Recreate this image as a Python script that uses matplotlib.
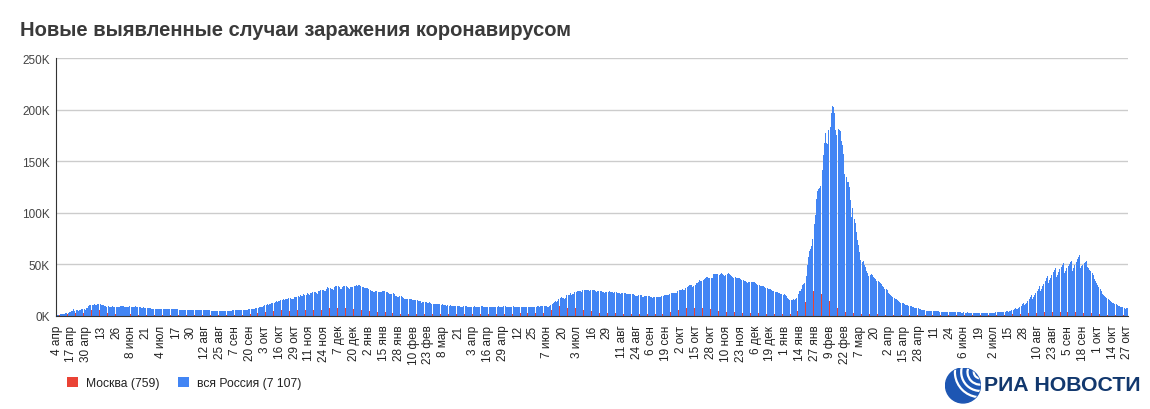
"""Новые выявленные случаи заражения коронавирусом (Россия и Москва), столбцы по дням."""

import numpy as np
import matplotlib
matplotlib.use("Agg")
import matplotlib.pyplot as plt
from matplotlib.patches import Circle, Arc
from matplotlib.ticker import FuncFormatter

# daily new cases, thousands; first day 4 Apr 2020, last day 27 Oct 2022
russia_2020 = [
    0.6, 0.7, 1.0, 1.2, 1.2, 1.5, 1.8, 1.7, 2.2, 2.6, 2.8, 3.4, 3.4, 4.1, 4.8, 6.1, 4.3, 5.6, 5.2, 4.8, 5.8, 6.0, 6.4, 6.2, 6.4, 5.8, 7.1,  # apr
    7.9, 9.6, 10.6, 10.6, 10.1, 10.6, 11.2, 10.7, 10.8, 11.0, 11.7, 10.9, 10.0, 10.0, 10.6, 9.2, 9.7, 8.9, 9.3, 8.8, 8.8, 8.9, 9.4, 8.6, 8.9, 8.9, 8.3, 8.4, 8.6, 9.0, 9.3,  # may
    9.0, 8.9, 8.5, 8.8, 8.7, 8.9, 9.0, 8.6, 8.6, 8.4, 8.8, 9.0, 8.7, 8.8, 8.2, 8.2, 7.8, 7.8, 8.0, 7.9, 7.7, 7.6, 7.4, 7.2, 7.1, 6.8, 6.9, 6.8, 6.7, 6.7,  # jun
    6.6, 6.8, 6.6, 6.7, 6.6, 6.7, 6.4, 6.6, 6.6, 6.6, 6.6, 6.6, 6.5, 6.2, 6.4, 6.4, 6.2, 6.2, 6.1, 6.0, 5.8, 5.9, 5.8, 5.8, 5.9, 5.8, 5.6, 5.5, 5.5, 5.5, 5.5,  # jul
    5.5, 5.4, 5.4, 5.4, 5.2, 5.2, 5.2, 5.2, 5.2, 5.1, 5.1, 5.1, 5.1, 5.1, 5.1, 5.1, 4.8, 4.7, 4.8, 4.9, 4.9, 4.9, 4.9, 4.7, 4.7, 4.7, 4.7, 4.7, 5.0, 4.9, 4.7,  # aug
    4.7, 4.7, 5.0, 5.0, 5.2, 5.2, 5.1, 5.1, 5.2, 5.4, 5.4, 5.4, 5.4, 5.5, 5.7, 5.7, 5.9, 5.9, 6.1, 6.1, 6.2, 6.2, 6.4, 6.6, 7.2, 7.5, 7.9, 8.1, 8.2, 8.5,  # sep
    8.9, 9.4, 10.0, 10.5, 10.9, 10.5, 11.1, 11.5, 12.1, 12.8, 12.7, 13.6, 13.9, 13.7, 13.8, 14.2, 15.2, 15.7, 16.0, 15.5, 16.0, 16.2, 16.5, 17.0, 17.3, 16.6, 16.2, 16.2, 17.7, 18.3, 18.1,  # oct
    18.7, 18.6, 19.8, 19.4, 19.4, 20.6, 20.5, 20.4, 21.8, 21.0, 19.9, 21.6, 22.0, 22.7, 22.6, 22.8, 22.4, 21.0, 23.6, 24.3, 24.8, 24.6, 25.2, 24.3, 23.7, 25.5, 27.5, 27.1, 26.7, 26.3,  # nov
    26.4, 25.3, 28.1, 28.7, 28.9, 29.0, 28.1, 26.1, 26.2, 27.9, 28.6, 29.0, 28.6, 28.1, 27.0, 26.4, 27.4, 28.2, 28.2, 28.6, 28.9, 29.4, 28.8, 29.9, 29.5, 29.0, 28.2, 27.8, 26.5, 26.5, 27.0,  # dec
]
russia_2021 = [
    26.9, 26.3, 24.7, 24.2, 23.9, 23.4, 23.3, 23.6, 23.7, 23.0, 23.3, 23.4, 22.8, 23.6, 24.1, 23.6, 22.9, 22.9, 22.3, 21.3, 21.1, 21.2, 21.7, 21.1, 19.3, 18.7, 18.2, 18.1, 19.3, 19.0, 18.4,  # jan
    17.6, 16.6, 16.7, 16.6, 16.4, 16.1, 16.7, 15.9, 14.9, 15.1, 15.2, 15.2, 15.3, 14.3, 14.2, 14.2, 12.8, 13.5, 13.4, 12.9, 13.5, 12.6, 12.7, 12.9, 12.0, 11.5, 11.6, 11.7,  # feb
    11.5, 11.2, 11.3, 11.4, 11.0, 10.7, 11.0, 10.6, 10.6, 10.6, 9.9, 10.4, 9.9, 10.0, 9.6, 9.2, 9.4, 9.4, 9.8, 9.4, 9.2, 9.1, 8.9, 8.3, 8.9, 9.1, 9.1, 9.1, 8.9, 8.5, 8.8,  # mar
    8.6, 8.6, 8.8, 9.0, 8.7, 8.3, 8.2, 8.3, 8.5, 9.0, 9.0, 8.8, 8.3, 8.2, 8.2, 8.5, 8.8, 8.7, 8.5, 8.0, 8.0, 8.1, 8.3, 8.9, 9.0, 8.1, 8.1, 8.2, 8.8, 9.1,  # apr
    9.3, 8.5, 8.7, 8.0, 8.1, 8.4, 8.9, 9.0, 8.6, 8.1, 8.0, 8.2, 8.4, 8.2, 8.8, 8.8, 8.5, 8.2, 8.2, 8.3, 8.8, 8.9, 8.9, 8.6, 8.1, 8.4, 8.6, 8.8, 9.0, 9.2, 8.7,  # may
    9.0, 9.0, 9.3, 9.5, 9.7, 9.3, 8.9, 8.9, 9.3, 10.4, 11.7, 12.5, 13.5, 14.7, 13.4, 14.1, 16.7, 17.3, 17.9, 17.6, 17.4, 16.7, 17.6, 20.2, 20.4, 20.5, 21.6, 20.5, 20.6, 21.0,  # jun
    23.5, 23.2, 24.4, 24.4, 24.4, 24.0, 23.5, 25.1, 25.1, 25.1, 25.0, 24.7, 24.5, 23.8, 25.3, 25.3, 25.1, 25.2, 24.3, 23.5, 24.0, 24.0, 24.1, 23.7, 23.3, 23.3, 22.4, 23.2, 23.5, 23.3, 23.8,  # jul
    23.0, 22.6, 22.6, 22.0, 22.6, 22.8, 22.2, 21.8, 21.6, 21.5, 21.9, 21.9, 22.0, 21.6, 20.9, 20.6, 20.8, 21.0, 21.3, 21.2, 20.8, 20.0, 19.6, 19.6, 19.5, 19.7, 20.0, 19.7, 18.6, 18.3, 18.8,  # aug
    18.9, 18.8, 18.9, 18.7, 18.1, 17.8, 17.5, 17.8, 18.1, 18.3, 17.9, 17.8, 18.0, 18.6, 18.8, 19.6, 20.0, 20.2, 19.8, 19.7, 20.3, 21.4, 22.4, 22.3, 22.0, 22.1, 22.3, 22.4, 23.9, 24.5,  # sep
    25.0, 24.8, 25.8, 25.1, 25.1, 27.2, 27.5, 28.5, 29.4, 29.4, 29.4, 28.2, 28.7, 30.0, 31.3, 32.2, 33.2, 34.3, 33.7, 34.1, 35.0, 36.0, 37.1, 37.7, 37.9, 36.4, 36.4, 36.5, 37.1, 40.1, 40.3,  # oct
    40.4, 40.1, 40.4, 40.0, 40.2, 41.3, 40.7, 39.4, 38.6, 39.2, 40.8, 41.3, 40.5, 39.2, 38.8, 37.2, 37.1, 37.4, 37.1, 37.1, 36.9, 36.3, 35.7, 34.6, 34.2, 33.9, 33.8, 33.1, 32.2, 33.0,  # nov
    32.6, 32.9, 33.0, 32.9, 32.4, 31.5, 30.7, 30.1, 29.9, 29.3, 28.8, 28.4, 28.6, 27.8, 27.1, 26.5, 26.4, 26.4, 26.1, 25.4, 24.3, 23.9, 23.2, 22.9, 22.6, 22.1, 22.0, 21.3, 20.7, 20.2, 21.1,  # dec
]
russia_2022 = [
    19.8, 18.8, 17.5, 16.0, 15.4, 15.2, 15.7, 15.9, 15.1, 15.8, 17.5, 21.0, 23.8, 23.8, 25.6, 29.6, 30.7, 31.3, 38.9, 49.5, 57.2, 63.2, 65.1, 67.8, 74.7, 88.8, 98.0, 113.1, 121.2, 123.5, 124.1,  # jan
    125.8, 141.9, 155.8, 168.2, 177.3, 168.0, 166.6, 180.5, 183.1, 197.1, 203.9, 203.0, 197.1, 180.1, 175.9, 181.0, 180.5, 179.1, 170.0, 165.4, 156.7, 137.5, 135.1, 129.9, 130.0, 125.3, 111.9, 96.2,  # feb
    105.0, 93.9, 90.1, 81.6, 73.1, 68.3, 61.9, 54.1, 52.5, 53.4, 49.4, 46.9, 43.3, 41.9, 38.7, 39.8, 40.6, 39.2, 37.8, 36.8, 35.4, 33.6, 33.4, 32.8, 31.6, 30.8, 29.2, 27.6, 26.4, 26.1, 24.8,  # mar
    22.4, 21.1, 20.1, 18.9, 18.4, 17.6, 16.7, 16.3, 15.1, 13.8, 13.6, 12.6, 12.3, 12.0, 11.1, 10.5, 10.6, 10.0, 9.8, 9.3, 9.0, 8.5, 8.2, 7.4, 7.5, 7.6, 7.3, 6.8, 6.1, 5.9,  # apr
    5.7, 5.4, 5.1, 4.6, 4.7, 4.7, 4.8, 4.6, 4.4, 4.4, 4.3, 4.5, 4.3, 4.3, 4.3, 4.0, 3.9, 3.9, 3.9, 3.7, 3.6, 3.6, 3.8, 3.5, 3.5, 3.6, 3.5, 3.3, 3.3, 3.3, 3.4,  # may
    3.3, 3.2, 3.2, 3.1, 3.1, 3.2, 3.1, 3.1, 3.2, 3.0, 2.9, 2.9, 2.9, 2.8, 2.9, 2.9, 2.8, 2.7, 2.7, 2.7, 2.7, 2.8, 2.9, 2.9, 2.9, 2.8, 2.8, 2.9, 2.9, 3.0,  # jun
    3.0, 3.0, 3.1, 3.2, 3.3, 3.5, 3.6, 3.3, 3.4, 3.6, 3.8, 4.0, 4.2, 4.4, 4.0, 4.3, 4.8, 5.3, 5.9, 6.6, 7.2, 6.3, 6.8, 7.6, 8.6, 9.7, 10.9, 12.0, 10.2, 11.2, 12.5,  # jul
    14.2, 16.0, 18.0, 20.0, 16.5, 18.0, 19.8, 21.8, 24.0, 26.3, 28.5, 24.0, 26.0, 28.5, 31.0, 34.0, 36.5, 39.0, 32.0, 34.5, 37.0, 39.5, 42.0, 44.0, 46.0, 37.5, 40.0, 42.5, 45.0, 47.5, 49.5,  # aug
    51.0, 41.0, 43.5, 46.0, 48.5, 50.5, 52.0, 53.6, 43.5, 46.5, 49.5, 52.5, 55.0, 57.0, 59.0, 46.5, 48.0, 49.5, 51.0, 52.3, 53.6, 47.0, 46.0, 44.5, 43.0, 41.5, 39.6, 35.5, 34.0, 32.0,  # sep
    30.0, 28.0, 26.0, 23.7, 21.0, 20.0, 19.0, 18.0, 17.0, 16.2, 15.3, 13.8, 13.2, 12.6, 12.0, 11.4, 10.9, 10.4, 9.3, 9.0, 8.6, 8.3, 8.0, 7.6, 6.9, 7.0, 7.107,  # oct
]

moscow_2020 = [
    0.4, 0.5, 0.7, 0.7, 0.8, 1.0, 1.1, 1.1, 1.4, 1.6, 1.5, 1.8, 1.9, 2.1, 2.6, 3.6, 2.2, 3.1, 2.5, 1.9, 3.1, 2.9, 3.1, 2.6, 2.2, 2.2, 3.6,  # apr
    4.1, 5.4, 6.0, 5.9, 5.8, 6.7, 6.0, 5.2, 5.7, 5.9, 6.2, 5.4, 4.7, 4.1, 4.5, 3.5, 3.5, 3.2, 2.7, 2.3, 2.4, 2.1, 2.3, 2.3, 2.1, 2.1, 2.1, 2.1, 2.3, 2.6, 2.4,  # may
    2.0, 1.9, 1.7, 1.8, 1.6, 1.6, 1.6, 1.6, 1.4, 1.2, 1.2, 1.5, 1.2, 1.1, 1.0, 1.0, 1.1, 1.0, 1.0, 1.0, 0.9, 0.9, 0.9, 0.8, 0.8, 0.8, 0.8, 0.8, 0.8, 0.7,  # jun
    0.7, 0.7, 0.7, 0.7, 0.7, 0.7, 0.6, 0.6, 0.6, 0.6, 0.6, 0.6, 0.6, 0.6, 0.6, 0.6, 0.6, 0.7, 0.7, 0.7, 0.6, 0.6, 0.6, 0.7, 0.7, 0.7, 0.7, 0.6, 0.6, 0.6, 0.7,  # jul
    0.7, 0.7, 0.7, 0.7, 0.7, 0.7, 0.7, 0.7, 0.7, 0.7, 0.7, 0.6, 0.6, 0.6, 0.6, 0.6, 0.6, 0.6, 0.6, 0.6, 0.7, 0.7, 0.7, 0.7, 0.7, 0.7, 0.7, 0.7, 0.7, 0.7, 0.7,  # aug
    0.7, 0.7, 0.7, 0.7, 0.7, 0.8, 0.8, 0.8, 0.8, 0.8, 0.8, 0.8, 0.8, 1.0, 1.0, 1.1, 1.1, 1.1, 1.2, 1.3, 1.5, 1.6, 1.6, 1.9, 2.3, 2.1, 2.3, 2.6, 2.9, 3.0,  # sep
    3.3, 3.3, 3.3, 3.5, 3.5, 3.5, 4.0, 4.0, 4.1, 4.3, 4.2, 4.0, 4.1, 4.1, 4.4, 5.0, 5.0, 5.3, 5.0, 4.1, 4.6, 4.8, 4.5, 4.6, 5.0, 4.7, 4.6, 4.6, 5.2, 5.3, 5.3,  # oct
    5.4, 5.3, 5.8, 5.9, 5.6, 5.6, 5.6, 5.4, 5.1, 5.4, 4.7, 5.5, 5.6, 5.9, 5.5, 5.2, 5.4, 5.6, 5.3, 5.4, 5.6, 6.0, 6.1, 6.0, 5.5, 7.2, 7.2, 6.8, 7.1, 6.9,  # nov
    7.2, 6.6, 7.8, 7.8, 8.0, 7.0, 6.0, 5.8, 5.9, 7.0, 7.6, 7.9, 7.4, 6.3, 5.7, 6.3, 6.7, 7.4, 7.4, 6.9, 6.4, 5.9, 5.3, 5.2, 6.2, 6.0, 5.6, 4.6, 4.9, 5.0, 5.6,  # dec
]
moscow_2021 = [
    5.6, 5.2, 4.7, 4.6, 4.3, 4.3, 4.2, 4.2, 4.2, 3.8, 3.6, 3.3, 3.3, 3.2, 3.7, 3.2, 3.3, 2.9, 2.5, 2.5, 2.3, 2.2, 2.4, 2.4, 2.3, 2.0, 1.9, 1.9, 2.0, 1.9, 1.9,  # jan
    1.9, 1.8, 1.6, 1.6, 1.6, 1.6, 1.5, 1.4, 1.3, 1.3, 1.4, 1.4, 1.4, 1.4, 1.3, 1.2, 1.2, 1.2, 1.2, 1.2, 1.3, 1.2, 1.2, 1.2, 1.2, 1.2, 1.2, 1.2,  # feb
    1.3, 1.2, 1.2, 1.2, 1.2, 1.2, 1.2, 1.2, 1.2, 1.2, 1.2, 1.2, 1.2, 1.3, 1.2, 1.2, 1.2, 1.2, 1.2, 1.2, 1.3, 1.3, 1.2, 1.2, 1.3, 1.3, 1.3, 1.3, 1.2, 1.3, 1.3,  # mar
    1.3, 1.4, 1.4, 1.4, 1.3, 1.3, 1.3, 1.4, 1.3, 1.4, 1.3, 1.3, 1.2, 1.3, 1.3, 1.4, 1.4, 1.3, 1.2, 1.2, 1.2, 1.2, 1.3, 1.3, 1.2, 1.2, 1.2, 1.2, 1.4, 1.5,  # apr
    1.7, 1.7, 1.8, 1.5, 1.6, 1.9, 1.9, 2.0, 2.2, 2.1, 1.9, 2.2, 2.4, 2.4, 2.4, 2.4, 2.3, 2.3, 2.4, 2.5, 2.7, 2.6, 2.8, 2.6, 2.6, 2.8, 2.9, 2.9, 3.0, 3.0, 2.7,  # may
    3.0, 3.0, 3.1, 3.0, 3.2, 3.1, 2.9, 3.0, 3.4, 4.7, 5.8, 6.7, 7.5, 7.0, 5.1, 5.8, 7.7, 9.1, 9.1, 8.6, 7.8, 6.6, 6.0, 7.9, 7.5, 7.4, 7.3, 6.5, 6.4, 6.6,  # jun
    7.5, 7.4, 7.4, 7.0, 6.1, 5.4, 5.6, 5.8, 5.2, 5.3, 5.0, 4.5, 4.2, 4.0, 4.6, 4.5, 4.0, 3.6, 3.3, 3.4, 3.3, 3.4, 3.1, 3.2, 2.9, 2.8, 2.7, 2.9, 2.7, 2.7, 2.6,  # jul
    2.5, 2.3, 2.3, 2.3, 2.3, 2.4, 2.3, 2.2, 2.0, 2.0, 2.0, 2.1, 2.0, 2.0, 1.9, 1.8, 1.8, 1.8, 1.8, 1.8, 1.8, 1.7, 1.7, 1.7, 1.7, 1.7, 1.7, 1.7, 1.6, 1.6, 1.6,  # aug
    1.6, 1.6, 1.6, 1.6, 1.5, 1.5, 1.5, 1.5, 1.6, 1.7, 1.7, 1.8, 1.8, 1.9, 2.0, 2.1, 2.2, 2.3, 2.3, 2.4, 2.5, 2.9, 3.3, 3.5, 3.9, 4.1, 4.0, 4.1, 4.9, 5.5,  # sep
    6.0, 6.4, 6.2, 6.0, 6.1, 7.2, 7.3, 7.7, 7.8, 7.5, 7.1, 6.4, 6.6, 7.0, 7.0, 7.5, 7.8, 7.3, 6.8, 6.9, 7.1, 7.5, 7.6, 8.1, 7.8, 7.4, 7.1, 6.9, 6.9, 7.4, 7.0,  # oct
    6.2, 5.8, 5.6, 4.9, 4.3, 4.2, 3.9, 3.2, 2.9, 3.0, 3.3, 3.6, 3.5, 3.4, 3.3, 3.1, 3.2, 3.2, 3.3, 3.2, 3.2, 3.1, 3.0, 3.0, 3.0, 3.0, 3.1, 3.1, 3.0, 2.8,  # nov
    2.8, 2.7, 2.6, 2.5, 2.5, 2.5, 2.6, 2.4, 2.4, 2.4, 2.3, 2.2, 2.2, 2.1, 2.1, 2.0, 2.0, 2.0, 1.9, 1.9, 1.9, 1.9, 1.8, 1.9, 1.8, 1.8, 1.7, 1.7, 1.8, 1.8, 2.0,  # dec
]
moscow_2022 = [
    1.9, 1.7, 1.5, 1.5, 1.5, 1.6, 1.7, 1.9, 1.9, 2.3, 3.0, 4.2, 6.1, 6.8, 7.2, 10.7, 10.7, 11.4, 13.5, 15.1, 19.2, 21.1, 21.0, 20.2, 22.8, 24.4, 26.2, 25.4, 23.4, 22.1, 21.7,  # jan
    20.2, 21.1, 21.6, 22.0, 19.2, 16.0, 13.2, 14.5, 14.0, 13.3, 13.0, 11.4, 9.9, 7.8, 7.4, 7.3, 7.0, 6.7, 5.9, 5.2, 4.3, 4.0, 3.8, 3.6, 3.4, 3.2, 2.8, 2.5,  # feb
    2.4, 2.3, 2.2, 2.1, 2.0, 1.9, 1.8, 1.7, 1.7, 1.6, 1.6, 1.5, 1.5, 1.5, 1.5, 1.5, 1.4, 1.4, 1.4, 1.3, 1.3, 1.3, 1.3, 1.3, 1.2, 1.2, 1.2, 1.1, 1.1, 1.1, 1.1,  # mar
    1.1, 1.0, 1.0, 1.0, 1.0, 1.0, 1.0, 1.0, 0.9, 0.9, 0.9, 0.9, 0.8, 0.8, 0.8, 0.8, 0.8, 0.7, 0.7, 0.7, 0.7, 0.7, 0.6, 0.6, 0.6, 0.6, 0.6, 0.6, 0.5, 0.5,  # apr
    0.5, 0.5, 0.5, 0.4, 0.4, 0.4, 0.4, 0.4, 0.4, 0.4, 0.4, 0.4, 0.4, 0.4, 0.4, 0.4, 0.4, 0.4, 0.4, 0.4, 0.3, 0.3, 0.3, 0.3, 0.3, 0.3, 0.3, 0.3, 0.3, 0.3, 0.3,  # may
    0.4, 0.4, 0.3, 0.3, 0.3, 0.3, 0.3, 0.3, 0.3, 0.3, 0.3, 0.3, 0.3, 0.3, 0.3, 0.3, 0.3, 0.3, 0.3, 0.3, 0.3, 0.3, 0.3, 0.3, 0.3, 0.3, 0.3, 0.3, 0.4, 0.4,  # jun
    0.4, 0.4, 0.4, 0.4, 0.4, 0.5, 0.5, 0.5, 0.5, 0.6, 0.6, 0.6, 0.7, 0.8, 0.8, 0.9, 1.0, 1.0, 1.2, 1.3, 1.4, 1.5, 1.6, 1.6, 1.7, 1.9, 2.0, 2.1, 2.2, 2.3, 2.2,  # jul
    2.4, 2.6, 2.7, 2.9, 2.6, 2.7, 2.8, 2.9, 3.0, 3.1, 3.2, 2.8, 2.9, 3.0, 3.1, 3.2, 3.3, 3.4, 2.9, 3.0, 3.1, 3.2, 3.3, 3.4, 3.5, 3.0, 3.1, 3.2, 3.3, 3.4, 3.5,  # aug
    3.6, 3.0, 3.1, 3.2, 3.3, 3.4, 3.5, 3.6, 3.0, 3.1, 3.2, 3.3, 3.4, 3.5, 3.6, 2.9, 3.0, 3.0, 3.1, 3.1, 3.2, 2.8, 2.7, 2.6, 2.5, 2.4, 2.3, 2.1, 2.0, 1.9,  # sep
    1.8, 1.7, 1.6, 1.5, 1.4, 1.3, 1.3, 1.2, 1.2, 1.1, 1.1, 1.0, 1.0, 1.0, 0.9, 0.9, 0.9, 0.9, 0.8, 0.8, 0.8, 0.8, 0.8, 0.8, 0.7, 0.7, 0.759,  # oct
]

tick_labels = [
    "4 апр", "17 апр", "30 апр", "13", "26", "8 июн", "21", "4 июл", "17", "30",
    "12 авг", "25 авг", "7 сен", "20 сен", "3 окт", "16 окт", "29 окт", "11 ноя",
    "24 ноя", "7 дек", "20 дек", "2 янв", "15 янв", "28 янв", "10 фев", "23 фев",
    "8 мар", "21", "3 апр", "16 апр", "29 апр", "12", "25", "7 июн", "20", "3 июл",
    "16", "29", "11 авг", "24 авг", "6 сен", "19 сен", "2 окт", "15 окт", "28 окт",
    "10 ноя", "23 ноя", "6 дек", "19 дек", "1 янв", "14 янв", "27 янв", "9 фев",
    "22 фев", "7 мар", "20", "2 апр", "15 апр", "28 апр", "11", "24", "6 июн", "19",
    "2 июл", "15", "28", "10 авг", "23 авг", "5 сен", "18 сен", "1 окт", "14 окт", "27 окт",
]
TICK_STEP = 13  # days between labels

russia = np.array(russia_2020 + russia_2021 + russia_2022) * 1000
moscow = np.array(moscow_2020 + moscow_2021 + moscow_2022) * 1000
assert len(russia) == len(moscow) == 937, (len(russia), len(moscow))

BLUE = "#4285f4"
RED = "#ea4335"
FONT = ["Liberation Sans", "DejaVu Sans"]
plt.rcParams["font.family"] = FONT


def spaced(v):
    return f"{int(round(v)):,}".replace(",", " ")


W, H = 1150, 410
fig = plt.figure(figsize=(W / 100, H / 100), dpi=100)
ax = fig.add_axes([56 / W, 1 - 316.7 / H, (1128 - 56) / W, (316.7 - 59.3) / H])

days = np.arange(len(russia))
# each day: a thin Moscow slot on the left, the Russia bar on the right
ax.bar(days - 0.4375, moscow, width=0.125, color=RED, linewidth=0,
       antialiased=False, label=f"Москва ({spaced(moscow[-1])})", zorder=2)
ax.bar(days + 0.0625, russia, width=0.875, color=BLUE, linewidth=0,
       antialiased=False, label=f"вся Россия ({spaced(russia[-1])})", zorder=2)

ax.set_xlim(-0.5, len(russia) - 0.5)
ax.set_ylim(0, 250000)
ax.set_yticks(np.arange(0, 250001, 50000))
ax.yaxis.set_major_formatter(FuncFormatter(lambda v, _: f"{int(v / 1000)}K"))
ax.yaxis.grid(True, color="#cccccc", linewidth=1)
ax.set_axisbelow(True)

ax.set_xticks(days[::TICK_STEP])
ax.set_xticklabels(tick_labels, rotation=90)
ax.tick_params(axis="x", length=0, pad=6.5, labelsize=8.5, labelcolor="#222222")
ax.tick_params(axis="y", length=0, pad=4.5, labelsize=8.5, labelcolor="#444444")

for side in ("top", "right"):
    ax.spines[side].set_visible(False)
ax.spines["left"].set_color("#333333")
ax.spines["bottom"].set_color("#333333")

fig.text(20 / W, 1 - 31 / H, "Новые выявленные случаи заражения коронавирусом",
         fontsize=14.5, fontweight="bold", color="#3a3a3a", va="center", ha="left")

leg = fig.legend(loc="center left", bbox_to_anchor=(67 / W, 1 - 384 / H),
                 ncol=2, frameon=False, fontsize=8.7, handlelength=0.95,
                 handleheight=0.95, handletextpad=0.65, columnspacing=1.5,
                 borderpad=0, borderaxespad=0)
for t in leg.get_texts():
    t.set_color("#222222")

# RIA Novosti logo
lax = fig.add_axes([945 / W, 1 - 405 / H, 36 / W, 37 / H])
lax.set_xlim(-1, 1)
lax.set_ylim(-1, 1)
lax.set_aspect("equal")
lax.axis("off")
globe = Circle((0, 0), 0.97, color="#1d56b3")
lax.add_patch(globe)
for r in (0.35, 0.7, 1.05, 1.4):
    arc = Arc((0.95, 0.75), 2 * r, 2 * r, theta1=150, theta2=300,
              color="white", linewidth=1.6)
    lax.add_patch(arc)
    arc.set_clip_path(globe)
fig.text(984 / W, 1 - 386 / H, "РИА НОВОСТИ", fontsize=15.3, fontweight="bold",
         color="#12386e", va="center", ha="left")

fig.savefig("out.png", dpi=100, facecolor="white")
